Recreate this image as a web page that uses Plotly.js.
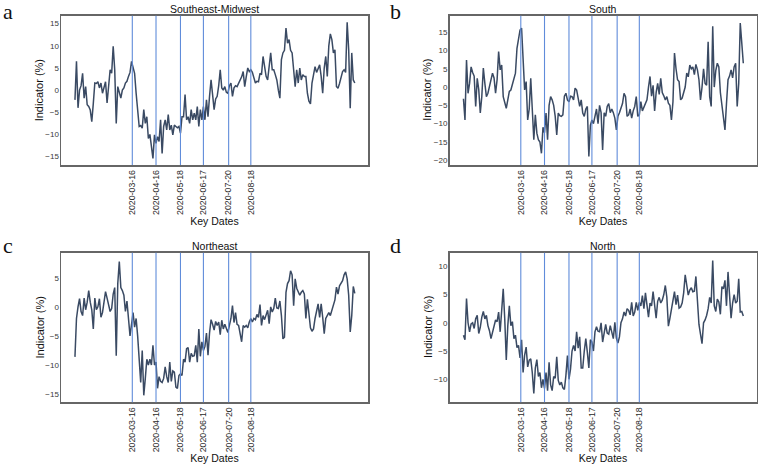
<!DOCTYPE html>
<html><head><meta charset="utf-8">
<script src="https://cdn.plot.ly/plotly-3.0.1.min.js"></script>
<style>html,body{margin:0;padding:0;background:#fff}#chart{width:762px;height:464px}</style>
</head><body><div id="chart"></div>
<script>
// ---- data ----
const startDate = '2020-01-01';   // first observation
const stepDays = 2;               // spacing of observations
const keyDates = ['2020-03-16','2020-04-16','2020-05-18','2020-06-17','2020-07-20','2020-08-18'];
const panelTitles = ['Southeast-Midwest','South','Northeast','North'];
const panelLetters = ['a','b','c','d'];
const xLabel = 'Key Dates';
const yLabel = 'Indicator (%)';

const southeastMidwest = [
 -2.2, 6.5, -4, 0, 1, 3.8, -1.8, 0.8, -3.3, -3.7,
 -4.5, -7.1, -3, 1.6, 1.5, 1.9, 0.5, 1.6, -0.7, 1,
 1.9, -2.9, 1, 4.6, 3.8, 9.9, 4.6, -7.5, 0.8, -0.7,
 -1.8, 0, 0.5, 1.6, 2, 3.1, 4, 6.5, 5, 3.8,
 -0.7, -3.7, -8.2, -8, -8.6, -4.4, -7.5, -6, -10.9, -10,
 -13.5, -15.4, -10.1, -12, -10.5, -11.6, -6.7, -14.3, -8.2, -6.7,
 -9, -5.5, -9, -7.9, -10.1, -7.9, -8.2, -8.5, -8.2, -9.7,
 -6, -6, -1, -6.7, -6, -7.5, -4.4, -6.7, -5.2, -6.7,
 -3.7, -8.2, -4.4, -6.7, -3.7, -6.7, -2.2, -6, -1.4, 2.3,
 -1, -4.4, -2, -1.4, 1, 4.6, 0.5, 0, 0.8, -0.5,
 -0.7, 1, 1.6, -1.4, 0.5, 1, 0.8, 1.5, 2.3, 3,
 4.2, 0.8, 3, 5, 4.2, 4.6, 4, 3, 1.6, 2,
 1.9, 3.8, 3.5, 7.6, 5.3, 3.1, 2.3, 6, 8.4, 4.6,
 4.6, 3.5, 2.3, 0, -1.8, 6.9, 8.4, 9, 14, 10.6,
 11.4, 9, 8.4, 4.6, 0.8, 4.6, 1.6, 5, 2.3, 3.5,
 3.1, 3.1, -0.7, -2.5, -3.1, 1.6, 3.8, 5.3, 4, 5,
 5.7, 3.1, -0.7, 5, 7.6, 3.1, 10, 12.7, 11.4, 8.4,
 9.1, 0.8, 0.4, 1.5, 3.1, 4.2, 4.6, 4, 15.3, 9.1,
 -4.1, 8.4, 2.3, 1.6];

const south = [
 -3.2, -9, 7.4, -1.7, 1, 5.5, 4, 3, -5.3, 2.4,
 -0.7, -7.1, -2.6, 5.2, 1, -2.6, -1.7, 0, 2.4, 3.8,
 2.5, -1.7, 2, 9.7, 4.7, 6, -2.6, -4.4, -5.8, -3.5,
 -1.2, -0.8, 1, 2, 3.8, 10.6, 13.5, 15.6, 16.1, 5,
 -0.8, 1.5, -9, -6, 2.4, -6, -14.4, -7.6, -12.6, -14.4,
 -15, -18.1, -11, -12.5, -7.1, -14.4, -5, -2.6, -3.5, -5,
 -8, -13.1, -7.1, -7.8, -8, -7.6, -2.5, -1.7, -3.5, -4,
 -2.5, -2.6, -3.5, -0.3, -0.8, -3, -5.3, -3.5, -7.1, -8,
 -6, -5.3, -19, -10.5, -9, -10, -8, -6, -10, -5,
 -7, -17.2, -7, -8, -5.3, -4.5, -7, -6, -7, -8.5,
 -11.7, -8, -7, -6, -4.5, -1.7, -2.6, -8, -7.6, -6,
 -8.5, -6.5, -5.3, -2.6, -8, -7.6, -4, -6.5, -5.3, -4.4,
 -3.5, 0, 2.9, -2.5, 0.5, -6.5, -1.5, 1, -2, 2.4,
 -1.5, -2.4, -3.5, -2.6, -4.4, -5, -9, -4, 9.3, 5,
 2, 1.5, -3.5, -3, -1.5, 0, 3.8, 2.8, 6, 5,
 5.5, 3.4, 6.2, 4.7, 2, -3.5, 0, 5, 1, 0.5,
 12.4, -2.6, -5.3, 16.6, 0, 4.5, 6.5, 5.5, -1.5, -4.5,
 -8, -11.7, -4.5, 2, 3, 4.7, 2.5, 5.5, 6.5, -5.3,
 1, 17.5, 12, 6.5];

const northeast = [
 -8.6, -2, 0, 1.4, -0.8, -1.5, 1.5, -0.5, 0.8, 2.8,
 0.8, -0.5, -3.8, 1.5, -0.5, 0, 1.4, -1.8, -1, 0.5,
 2.6, 1.5, 0.4, -0.8, -0.3, 2.2, 3.3, -8.4, 4, 7.8,
 3.3, 2.8, 2, -0.8, 1, -1.5, -5, -3, -1, -3.5,
 -2, -5, -9, -13, -7.5, -15.2, -12.3, -9, -10, -9,
 -10, -6.6, -10, -9.5, -14, -12, -12.8, -13, -12.3, -10.3,
 -12, -13, -9.5, -12.8, -11, -11.2, -13.8, -14, -11.8, -11.5,
 -11.8, -9, -9.5, -7.2, -7, -9.5, -8, -8.5, -8.4, -6.6,
 -9.5, -3.8, -8.5, -6, -7.5, -6.8, -4.5, -8.3, -4.5, -2.2,
 -3, -4, -2.5, -3.2, -2.6, -4.8, -2.3, -3.8, -3, -3.6,
 -4.4, -3.2, -2, 0.2, -2.7, -1, -3, -3.2, -4.9, -6,
 -3.2, -3.5, -3.2, -3.6, -2.6, -2, -2.6, -2, -2.2, -1.3,
 -1.8, 0.4, -3.2, -1.5, -2.2, -1.3, -0.6, -2.9, 0, -0.9,
 -0.3, 1.5, -0.2, -0.3, 1, -1.5, -5.5, -5.2, 2.5, 4,
 4.5, 6.2, 5.5, 0.2, 4.8, 3.2, 2.5, 2, 2.5, 2.8,
 2.2, -2, 1.3, -1.5, -3.6, -4.2, -3.8, -2, -0.8, 0.5,
 -1.8, 0.5, -1.8, -4.6, -2, -1.5, -1, -1.5, -0.6, 0,
 1.2, 3.4, 2.2, 3.6, 4, 4.5, 5.5, 6, 4.8, 2,
 -4.3, -1.5, 3.5, 2.3];

const north = [
 -2.2, -3, 4.3, 0, -1.6, -0.2, 0, -1, 0.7, 1.3,
 -1.9, -0.8, 1, 2, 0.7, 1.3, -0.5, -1.4, -2.8, -1.5,
 -0.8, 0.5, 0.2, 1.9, -1.6, 2.5, 6, 0.7, -6.6, -0.5,
 3, -0.5, 0.2, -2.8, -2.2, -4.4, -4, -6.2, -3, -8.8,
 -5.7, -4.3, -7.8, -6.6, -6.4, -8.8, -12.5, -8, -6.5, -9.5,
 -8.8, -11.5, -10, -11.6, -8.8, -12, -7, -11, -12, -9.5,
 -9.8, -6, -10.2, -11, -10.5, -11.5, -11.8, -9.3, -5.8, -10,
 -8.2, -5, -4, -5, -1.6, -4.5, -2.5, -8, -8, -5,
 -2.8, -5.2, -8, -3, -3.4, -5, -1.6, -0.7, -1.5, -1.6,
 0, -3.4, -1.5, -0.3, -1.8, -2, -0.5, -1.6, -2.8, 0.1,
 -2.7, -3.6, -2.5, 0, 0.7, 1.9, 1.2, 2.5, 2.2, 1.4,
 3.6, 1.2, 1.9, 3.6, 2.2, 3.6, 3, 4.8, 2.5, 5.3,
 3, 1, 3.5, 3, 5.5, 2.6, 0.8, 3.8, 4.5, 3.5,
 4, 5, 6.6, 4.5, -0.6, 0.8, 2.5, 3.8, 5.5, 3.2,
 4.9, 2.6, 2.8, 3.5, 5.3, 8.5, 6.6, 4.9, 5.8, 6.2,
 5.5, 5.6, 8.2, 4.5, -0.3, -2, -3.7, 0, 0.5, 1.3,
 2.5, 4.5, 3.5, 11, 3, 2, 4.2, 3.7, 1.5, 6.4,
 6, 7.5, 3, 9, 4, 0.8, 3.5, 5, 3.5, 3.8,
 7.8, 1.9, 2, 1.2];

const panelSeries = [southeastMidwest, south, northeast, north];
const yRanges = [[-16.9, 16.8], [-21.3, 19.5], [-16.4, 9.3], [-14.07, 12.4]];

// ---- build ----
function makeDates(n){
  const t0 = Date.parse(startDate + 'T00:00:00Z');
  const out = [];
  for (let i = 0; i < n; i++) out.push(new Date(t0 + i*stepDays*86400000).toISOString().slice(0,10));
  return out;
}

const W = 762, H = 464;
const xDomains = [[61/W, 368/W],[449.5/W, 756.5/W],[61/W, 368/W],[449.5/W, 756.5/W]];
const yDomains = [[1-165/H, 1-15.7/H],[1-165/H, 1-15.7/H],[1-402.3/H, 1-252.7/H],[1-402.3/H, 1-252.7/H]];
const xRange = ['2019-12-13 18:00', '2021-01-18 06:00'];

const lineColor = '#3a4a63';
const keyColor = 'rgb(96,140,218)';
const frameColor = '#666666';
const fontFam = 'Liberation Sans, Arial, sans-serif';

const traces = [];
const layout = {
  width: W, height: H,
  margin: {l:0, r:0, t:0, b:0},
  paper_bgcolor: '#fff', plot_bgcolor: '#fff',
  showlegend: false,
  font: {family: fontFam, color: '#222'},
  shapes: [], annotations: []
};

panelSeries.forEach((vals, p) => {
  const sfx = p === 0 ? '' : String(p+1);
  traces.push({
    x: makeDates(vals.length), y: vals, type: 'scatter', mode: 'lines',
    line: {color: lineColor, width: 1.5},
    xaxis: 'x' + sfx, yaxis: 'y' + sfx, hoverinfo: 'skip'
  });
  layout['xaxis' + sfx] = {
    domain: xDomains[p], anchor: 'y' + sfx, type: 'date', range: xRange,
    tickmode: 'array', tickvals: keyDates, ticktext: keyDates, tickangle: -90,
    showgrid: false, zeroline: false, ticks: '', showline: true, mirror: true,
    linecolor: frameColor, linewidth: 1.5,
    tickfont: {family: fontFam, size: 8.8, color: '#2a2a2a'},
    title: {text: xLabel, font: {family: fontFam, size: 10.5, color: '#111'}, standoff: 2},
    automargin: false, fixedrange: true
  };
  layout['yaxis' + sfx] = {
    domain: yDomains[p], anchor: 'x' + sfx, range: yRanges[p], dtick: 5,
    showgrid: false, zeroline: false, ticks: '', showline: true, mirror: true,
    linecolor: frameColor, linewidth: 1.5, ticklabelstandoff: -1,
    tickfont: {family: fontFam, size: 8, color: '#3a3a3a'},
    automargin: false, fixedrange: true
  };
  keyDates.forEach(d => {
    layout.shapes.push({type: 'line', xref: 'x' + sfx, yref: 'y' + sfx + ' domain',
      x0: d, x1: d, y0: 0, y1: 1, line: {color: keyColor, width: 1.1}, layer: 'above'});
  });
  const xc = (xDomains[p][0] + xDomains[p][1]) / 2;
  const yc = (yDomains[p][0] + yDomains[p][1]) / 2;
  layout.annotations.push({text: panelTitles[p], xref: 'paper', yref: 'paper', x: xc,
    y: p < 2 ? 1 - 8.7/H : 1 - 246/H, xanchor: 'center', yanchor: 'middle', showarrow: false,
    font: {family: fontFam, size: 10.5, color: '#111'}});
  layout.annotations.push({text: yLabel, xref: 'paper', yref: 'paper', textangle: -90,
    x: xDomains[p][0] - 22/W, y: yc, xanchor: 'center', yanchor: 'middle', showarrow: false,
    font: {family: fontFam, size: 11, color: '#111'}});
  layout.annotations.push({text: panelLetters[p], xref: 'paper', yref: 'paper',
    x: p % 2 === 0 ? 1/W : 388/W, y: p < 2 ? 1 - 12/H : 1 - 245/H,
    xanchor: 'left', yanchor: 'middle', showarrow: false,
    font: {family: 'Liberation Serif, DejaVu Serif, serif', size: 22, color: '#111'}});
});

Plotly.newPlot('chart', traces, layout, {staticPlot: true, displayModeBar: false});
</script></body></html>
